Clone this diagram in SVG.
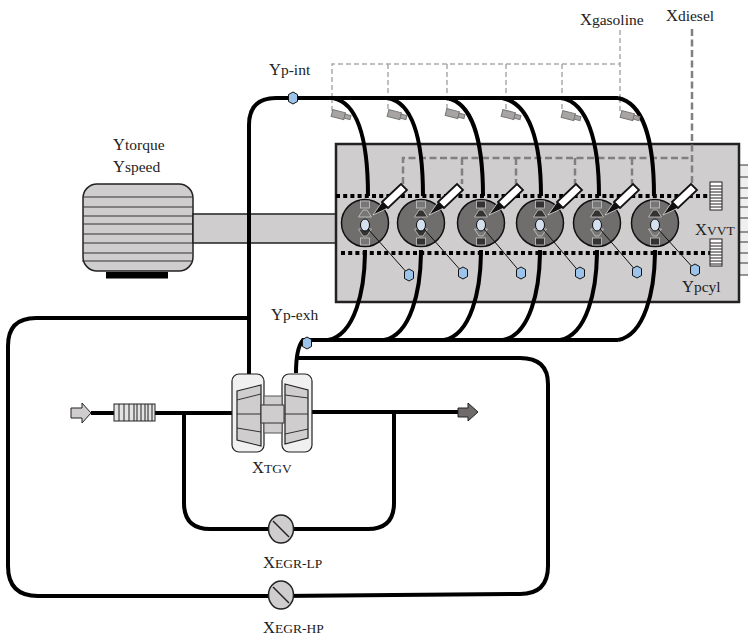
<svg xmlns="http://www.w3.org/2000/svg" width="748" height="638" viewBox="0 0 748 638">
<style>
text{font-family:"Liberation Serif",serif;font-size:16.5px;fill:#222}
.s{font-size:15.5px}
.c{font-size:13.5px}
.pipe{fill:none;stroke:#000;stroke-width:4}
.gas{fill:none;stroke:#aaa;stroke-width:1.5;stroke-dasharray:5 3}
.die{fill:none;stroke:#808080;stroke-width:2.5;stroke-dasharray:7 3.5}
.dot{fill:none;stroke:#000;stroke-width:4;stroke-dasharray:4 3.2}
.hex{fill:#9cc4ea;stroke:#111;stroke-width:1}
.gray{fill:#cfcdce;stroke:#222;stroke-width:1.5}
.line{stroke:#333;stroke-width:1;fill:none}
.cyl{fill:#706d6d;stroke:#111;stroke-width:1.5}
.port{fill:#d5e0ee;stroke:#111}
</style>
<defs>
<polygon id="hx" class="hex" points="0,-6 4.5,-3.5 4.5,3.5 0,6 -4.5,3.5 -4.5,-3.5"/>
<g id="gi"><rect x="0" y="-3.5" width="13" height="7" fill="#a8a4a4" stroke="#777" stroke-width="1"/><rect x="13" y="-2" width="6" height="4" fill="#a8a4a4" stroke="#777" stroke-width="1"/></g>
<g id="valve" stroke="#c8c8c8" stroke-width="0.8"><rect x="-4.5" y="-22" width="9" height="7" fill="currentColor"/><polygon points="-2,-13 2,-13 6.5,-6 -6.5,-6"/></g>
<g id="inj"><polygon points="0,0 9,-13 15,-7" fill="#111" stroke="#ddd" stroke-width="0.8"/><polygon points="9,-13 28,-31 34,-25 15,-7" fill="#fff" stroke="#111" stroke-width="1.8"/></g>
<g id="valv"><ellipse rx="12.5" ry="14" fill="#cfcdce" stroke="#222" stroke-width="1.5"/><line x1="-8" y1="-8" x2="8" y2="8" stroke="#222" stroke-width="1.5"/></g>
</defs>

<g id="motor">
<rect x="106" y="272" width="62" height="6.5" fill="#000"/>
<rect x="83" y="184" width="110" height="87" rx="14" class="gray"/>
<path class="line" d="M83,197H193M83,207H193M83,216H193M83,224H193M83,234H193M83,243H193M83,253H192M82,261H192" stroke-width="1.3"/>
</g>
<g id="shaft"><rect x="193" y="214" width="143" height="29" class="gray" stroke-width="1.2"/></g>
<g id="exhaust-stubs"><rect x="740" y="165" width="8" height="110" fill="#efefef"/><path class="line" d="M740,165H748M740,177H748M740,188H748M740,198H748M740,207H748M740,218H748M740,232H748M740,242H748M740,253H748M740,263H748M740,275H748"/></g>
<g id="engine-block"><rect x="336" y="144" width="403" height="158" fill="#cfcdce" stroke="#222" stroke-width="2.5"/></g>

<g id="connectors">
<path class="gas" d="M620,30V98M332,98V64H620M388,64V112M447,64V112M506,64V112M562,64V112M620,98V112M332,98V112"/>
<path class="die" d="M692,29V184M403,184V158H692M462,158V184M516,158V184M575,158V184M632,158V184"/>
<path class="pipe" d="M249,376V125Q249,98 276,98H618"/>
<path class="pipe" d="M333,98C358,103 368,140 368,196M388,98C413,103 423,140 423,196M447,98C472,103 483,140 483,196M502,98C529,103 541,140 541,196M562,98C587,103 599,140 599,196M618,98C643,103 654,140 654,196"/>
<path class="pipe" d="M365,250C365,290 355,335 328,340M421,250C421,290 411,335 384,340M481,250C481,290 471,335 444,340M540,250C540,290 530,335 503,340M597,250C597,290 587,335 560,340M655,250C655,290 645,335 618,340"/>
<path class="pipe" d="M618,340H303Q296,348 296,373"/>
<path class="pipe" d="M296,358H520Q548,358 548,384V566Q548,594 520,594L280,596H38Q8,596 8,566V346Q8,318 36,318H249"/>
<path class="pipe" d="M91,413H232M312,412H460"/>
<path class="pipe" d="M184,413V503Q184,529 210,529H368Q394,529 394,503V412"/>
<path class="dot" d="M336,196H708M341,253H710"/>
</g>

<g id="gasoline-injectors">
<use href="#gi" transform="translate(332,113) rotate(14)"/>
<use href="#gi" transform="translate(388,113) rotate(14)"/>
<use href="#gi" transform="translate(446,112) rotate(14)"/>
<use href="#gi" transform="translate(502,113) rotate(14)"/>
<use href="#gi" transform="translate(562,114) rotate(14)"/>
<use href="#gi" transform="translate(621,114) rotate(14)"/>
</g>

<g id="cyl1" transform="translate(365,223)"><circle r="23.5" class="cyl"/><use href="#valve" fill="#777" color="#777"/><use href="#valve" transform="scale(1,-1)" fill="#333" color="#777"/><ellipse cy="2" rx="4.5" ry="6" class="port"/><use href="#inj" transform="translate(8,-8)"/><line x1="3" y1="6" x2="44" y2="52" stroke="#111"/></g>
<g id="cyl2" transform="translate(421,223)"><circle r="23.5" class="cyl"/><use href="#valve" fill="#333" color="#777"/><use href="#valve" transform="scale(1,-1)" fill="#333" color="#333"/><ellipse cy="2" rx="4.5" ry="6" class="port"/><use href="#inj" transform="translate(8,-8)"/><line x1="3" y1="6" x2="42" y2="50" stroke="#111"/></g>
<g id="cyl3" transform="translate(481,223)"><circle r="23.5" class="cyl"/><use href="#valve" fill="#333" color="#333"/><use href="#valve" transform="scale(1,-1)" fill="#777" color="#333"/><ellipse cy="2" rx="4.5" ry="6" class="port"/><use href="#inj" transform="translate(8,-8)"/><line x1="3" y1="6" x2="40" y2="50" stroke="#111"/></g>
<g id="cyl4" transform="translate(540,223)"><circle r="23.5" class="cyl"/><use href="#valve" fill="#333" color="#333"/><use href="#valve" transform="scale(1,-1)" fill="#777" color="#333"/><ellipse cy="2" rx="4.5" ry="6" class="port"/><use href="#inj" transform="translate(8,-8)"/><line x1="3" y1="6" x2="40" y2="50" stroke="#111"/></g>
<g id="cyl5" transform="translate(597,223)"><circle r="23.5" class="cyl"/><use href="#valve" fill="#333" color="#777"/><use href="#valve" transform="scale(1,-1)" fill="#777" color="#333"/><ellipse cy="2" rx="4.5" ry="6" class="port"/><use href="#inj" transform="translate(8,-8)"/><line x1="3" y1="6" x2="40" y2="49" stroke="#111"/></g>
<g id="cyl6" transform="translate(655,223)"><circle r="23.5" class="cyl"/><use href="#valve" fill="#333" color="#777"/><use href="#valve" transform="scale(1,-1)" fill="#777" color="#333"/><ellipse cy="2" rx="4.5" ry="6" class="port"/><use href="#inj" transform="translate(8,-8)"/><line x1="3" y1="6" x2="40" y2="47" stroke="#111"/></g>

<g id="sensors">
<use href="#hx" x="293" y="98"/><use href="#hx" x="307" y="343"/>
<use href="#hx" x="409" y="275"/><use href="#hx" x="463" y="273"/><use href="#hx" x="521" y="273"/><use href="#hx" x="580" y="273"/><use href="#hx" x="637" y="272"/><use href="#hx" x="695" y="270"/>
</g>

<g id="vvt">
<rect x="710" y="182" width="12" height="28" fill="#fff" stroke="#222"/>
<path stroke="#222" stroke-width="1" d="M710,186H722M710,189H722M710,192H722M710,195H722M710,198H722M710,201H722M710,204H722M710,207H722"/>
<rect x="710" y="239" width="12" height="27" fill="#fff" stroke="#222"/>
<path stroke="#222" stroke-width="1" d="M710,243H722M710,246H722M710,249H722M710,252H722M710,255H722M710,258H722M710,261H722M710,264H722"/>
</g>

<g id="air-inlet">
<polygon points="71,408 82,408 82,403 91,413 82,423 82,418 71,418" fill="#cfcdce" stroke="#222" stroke-width="1"/>
</g>
<g id="air-filter">
<rect x="114" y="404" width="41" height="17" fill="#e4e3e3" stroke="#222"/>
<path stroke="#222" d="M119,404V421M124,404V421M129,404V421M134,404V421M137,404V421M141,404V421M145,404V421M148,404V421M152,404V421"/>
</g>
<g id="exhaust-outlet">
<polygon points="458,408 468,408 468,403 478,412 468,421 468,417 458,417" fill="#6f6b6b" stroke="#222" stroke-width="1"/>
</g>

<g id="turbocharger">
<rect x="232" y="374" width="32" height="78" rx="7" fill="#f0f0f0" stroke="#222" stroke-width="1.2"/>
<rect x="282" y="374" width="30" height="78" rx="7" fill="#f0f0f0" stroke="#222" stroke-width="1.2"/>
<rect x="264" y="396" width="18" height="37" fill="#cfcdce" stroke="#555"/>
<polygon points="237,391 261,385 261,446 237,440" fill="#cfcdce" stroke="#222" stroke-width="1.2"/>
<polygon points="285,384 308,390 308,438 285,444" fill="#cfcdce" stroke="#222" stroke-width="1.2"/>
<path class="line" d="M237,400L261,394M237,414H261M237,428L261,432M285,395L308,398M285,414H308M285,434L308,429"/>
<rect x="261" y="405" width="23" height="18" fill="#cfcdce" stroke="#333"/>
</g>

<g id="egr-lp"><use href="#valv" x="281" y="529"/></g>
<g id="egr-hp"><use href="#valv" x="281" y="595"/></g>

<g id="labels">
<text x="113" y="150">Y<tspan class="s">torque</tspan></text>
<text x="113" y="172">Y<tspan class="s">speed</tspan></text>
<text x="269" y="75">Y<tspan class="s">p-int</tspan></text>
<text x="580" y="25">X<tspan class="s">gasoline</tspan></text>
<text x="666" y="21">X<tspan class="s">diesel</tspan></text>
<text x="271" y="320">Y<tspan class="s">p-exh</tspan></text>
<text x="695" y="235">X<tspan class="c">VVT</tspan></text>
<text x="682" y="292">Y<tspan class="s">pcyl</tspan></text>
<text x="252" y="473">X<tspan class="c">TGV</tspan></text>
<text x="263" y="568">X<tspan class="c">EGR-LP</tspan></text>
<text x="263" y="633">X<tspan class="c">EGR-HP</tspan></text>
</g>
</svg>
